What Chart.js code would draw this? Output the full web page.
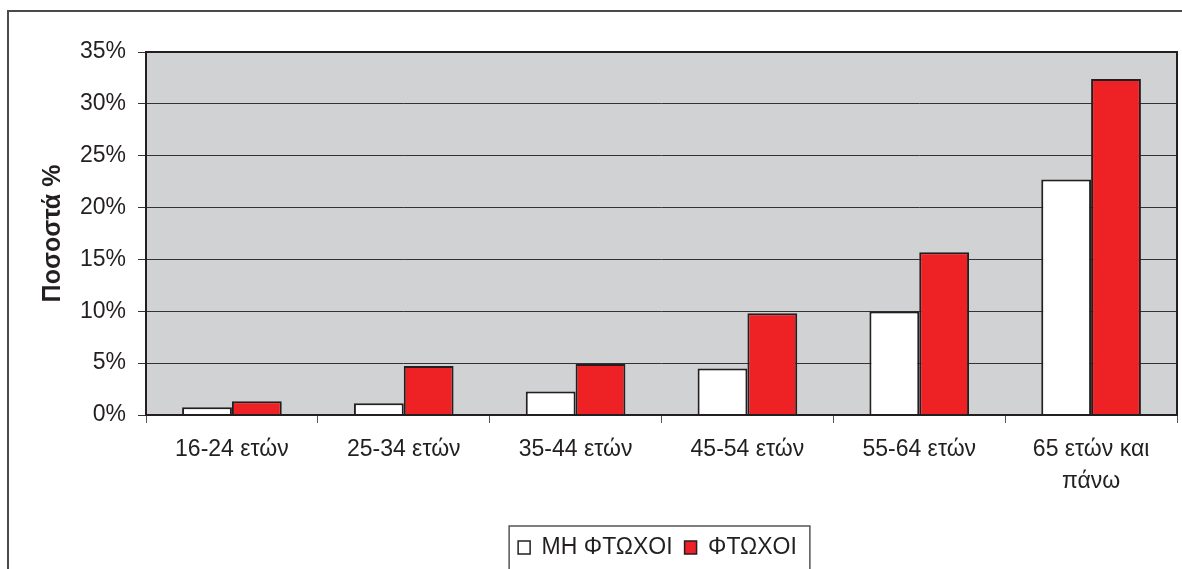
<!DOCTYPE html>
<html>
<head>
<meta charset="utf-8">
<script src="https://cdn.jsdelivr.net/npm/chart.js@4"></script>
<style>
  html, body { margin: 0; padding: 0; background: #fff; }
  #wrap { width: 1182px; height: 569px; }
</style>
</head>
<body>
<div id="wrap"><canvas id="grafico" width="1182" height="569"></canvas></div>
<script>
const ctx = document.getElementById('grafico');

const categorias = ['16-24 ετών', '25-34 ετών', '35-44 ετών', '45-54 ετών', '55-64 ετών', ['65 ετών και', 'πάνω']];
const mhFtwxoi = [0.75, 1.13, 2.26, 4.49, 9.99, 22.7];
const ftwxoi = [1.33, 4.72, 4.92, 9.8, 15.7, 32.4];
const ticksY = [0, 5, 10, 15, 20, 25, 30, 35];

const fuente = '"Liberation Sans", Arial, Helvetica, sans-serif';
const tinta = '#231f20';
const desplazLeyenda = 65;

// gray plot background, frame round the plot, outer border, legend box
const marco = {
  id: 'marco',
  afterLayout(chart) {
    // the legend sits a bit right of center
    const lg = chart.legend;
    lg.left += desplazLeyenda;
    lg.right += desplazLeyenda;
    (lg.legendHitBoxes || []).forEach(b => { b.left += desplazLeyenda; });
  },
  beforeDraw(chart) {
    const { ctx, chartArea: a } = chart;
    ctx.save();
    ctx.fillStyle = '#d1d2d4';
    ctx.fillRect(a.left, a.top, a.right - a.left, a.bottom - a.top);
    ctx.restore();
  },
  afterDraw(chart) {
    const { ctx, chartArea: a } = chart;
    ctx.save();
    ctx.strokeStyle = tinta;
    ctx.lineWidth = 2;
    ctx.strokeRect(a.left, a.top, a.right - a.left, a.bottom - a.top);

    ctx.strokeStyle = '#4a4a4a';
    ctx.lineWidth = 2;
    ctx.beginPath();
    ctx.moveTo(8, 600);
    ctx.lineTo(8, 11);
    ctx.lineTo(1190, 11);
    ctx.stroke();

    const lg = chart.legend;
    const cajas = lg.legendHitBoxes || [];
    if (cajas.length) {
      const x0 = Math.min(...cajas.map(b => b.left)) - 9;
      const x1 = Math.max(...cajas.map(b => b.left + b.width)) + 13;
      ctx.strokeStyle = '#555';
      ctx.lineWidth = 1.5;
      ctx.strokeRect(x0, lg.top + 2, x1 - x0, 200);
    }
    ctx.restore();
  }
};

const data = {
  labels: categorias,
  datasets: [
    {
      label: 'ΜΗ ΦΤΩΧΟΙ',
      data: mhFtwxoi,
      backgroundColor: '#ffffff',
      borderColor: tinta,
      borderWidth: 2,
    },
    {
      label: 'ΦΤΩΧΟΙ',
      data: ftwxoi,
      backgroundColor: '#ee2224',
      borderColor: tinta,
      borderWidth: 2,
    },
  ],
};

const options = {
  responsive: false,
  animation: false,
  layout: {
    padding: { left: 8, right: 5, top: 52, bottom: 0 },
  },
  datasets: {
    bar: { categoryPercentage: 0.58, barPercentage: 1.0 },
  },
  plugins: {
    legend: {
      position: 'bottom',
      labels: {
        color: tinta,
        font: { family: fuente, size: 23 },
        boxWidth: 12,
        boxHeight: 13,
        padding: 12,
        generateLabels(chart) {
          return chart.data.datasets.map((ds, i) => ({
            text: ds.label,
            fillStyle: ds.backgroundColor,
            strokeStyle: tinta,
            lineWidth: 1.5,
            datasetIndex: i,
            fontColor: tinta,
          }));
        },
      },
    },
    tooltip: { enabled: false },
  },
  scales: {
    x: {
      offset: true,
      grid: {
        offset: true,
        drawOnChartArea: false,
        drawTicks: true,
        tickLength: 8,
        color: '#555',
      },
      border: { display: false },
      ticks: {
        color: tinta,
        padding: 11,
        maxRotation: 0,
        autoSkip: false,
        font: { family: fuente, size: 23, lineHeight: 1.39 },
      },
      afterFit(scale) { scale.height = 109; },
    },
    y: {
      min: 0,
      max: 35,
      afterBuildTicks(scale) { scale.ticks = ticksY.map(v => ({ value: v })); },
      grid: {
        color: '#333',
        lineWidth: 1,
        drawTicks: true,
        tickLength: 8,
      },
      border: { display: false },
      ticks: {
        color: tinta,
        padding: 12,
        font: { family: fuente, size: 23 },
        callback: v => v + '%',
      },
      title: {
        display: true,
        text: 'Ποσοστά %',
        color: tinta,
        font: { family: fuente, size: 25, weight: 'bold' },
        padding: { top: 30, bottom: 0 },
      },
      afterFit(scale) { scale.width = 138; },
    },
  },
};

const myChart = new Chart(ctx, {
  type: 'bar',
  data,
  options,
  plugins: [marco],
});
</script>
</body>
</html>
